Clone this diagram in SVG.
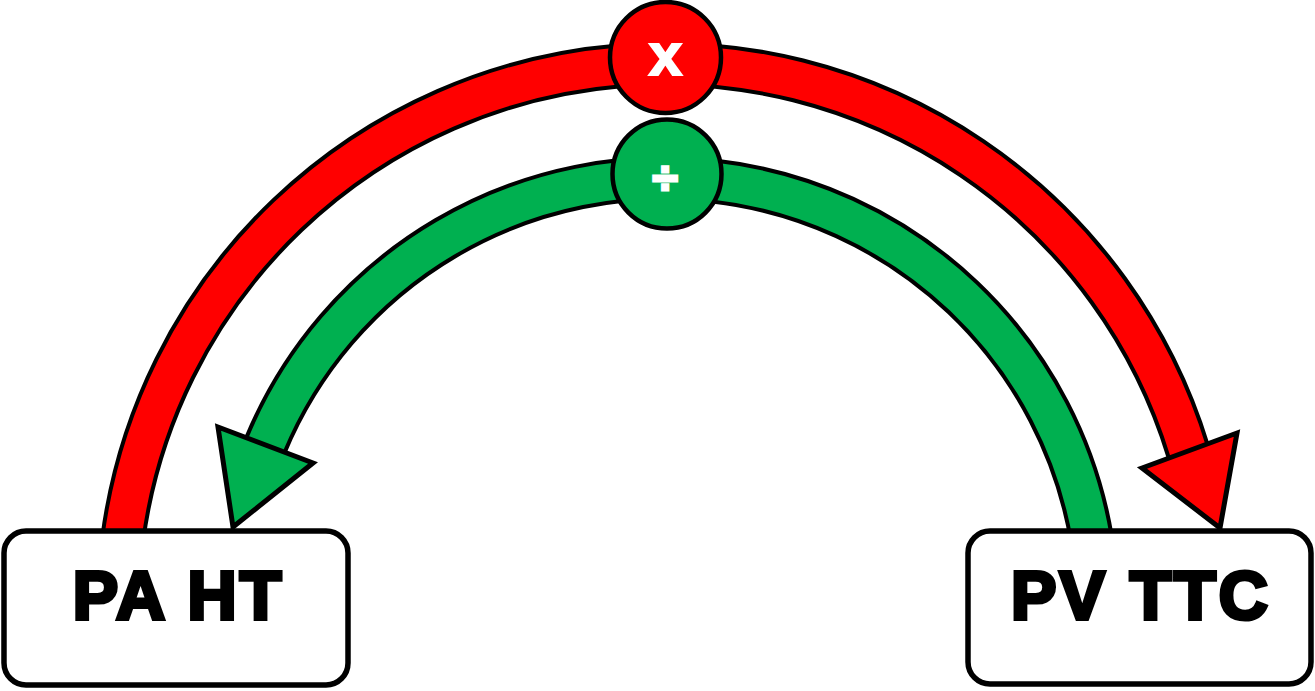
<svg xmlns="http://www.w3.org/2000/svg" width="1315" height="691" viewBox="0 0 1315 691">
  <style>
    .edge { fill: none; stroke: #000; stroke-width: 45; stroke-linecap: butt; }
    .red { fill: none; stroke: #FF0000; stroke-width: 37; stroke-linecap: butt; }
    .green { fill: none; stroke: #00B050; stroke-width: 37; stroke-linecap: butt; }
    .head { stroke: #000; stroke-width: 5; stroke-linejoin: miter; }
    .box { fill: #fff; stroke: #000; stroke-width: 5.5; }
    .label { font-family: "Liberation Sans", Arial, sans-serif; font-weight: bold; font-size: 68px; letter-spacing: 3px; fill: #000; stroke: #000; stroke-width: 4; stroke-linejoin: miter; text-anchor: middle; }
    .op { font-family: "Liberation Sans", Arial, sans-serif; font-weight: bold; fill: #fff; stroke: #fff; text-anchor: middle; }
    .circ { stroke: #000; stroke-width: 4.5; }
  </style>
  <g id="connectors">
    <g id="multiply-arc">
      <path class="edge" d="M 122.6 540 A 547 547 0 0 1 1188.1 451.1"/>
      <path class="red" d="M 122.6 540 A 547 547 0 0 1 1188.1 451.1"/>
      <polygon class="head" fill="#FF0000" points="1142,468 1237,433 1220,528"/>
    </g>
    <g id="divide-arc">
      <path class="edge" d="M 1091.6 540 A 432.5 432.5 0 0 0 265.5 445"/>
      <path class="green" d="M 1091.6 540 A 432.5 432.5 0 0 0 265.5 445"/>
      <polygon class="head" fill="#00B050" points="218,427 313,463 233,527"/>
    </g>
  </g>
  <g id="node-multiply">
    <circle class="circ" cx="665.5" cy="57.5" r="55.5" fill="#FF0000"/>
    <text class="op" x="665.5" y="75" font-size="60" stroke-width="2">x</text>
  </g>
  <g id="node-divide">
    <circle class="circ" cx="667" cy="174" r="54.5" fill="#00B050"/>
    <text class="op" x="665" y="194" font-size="46" stroke-width="3">÷</text>
  </g>
  <g id="node-pa-ht">
    <rect class="box" x="4" y="531" width="344" height="154" rx="22" ry="22"/>
    <text class="label" x="178.5" y="619">PA HT</text>
  </g>
  <g id="node-pv-ttc">
    <rect class="box" x="968" y="531" width="343" height="153" rx="22" ry="22"/>
    <text class="label" x="1141" y="619">PV TTC</text>
  </g>
</svg>
